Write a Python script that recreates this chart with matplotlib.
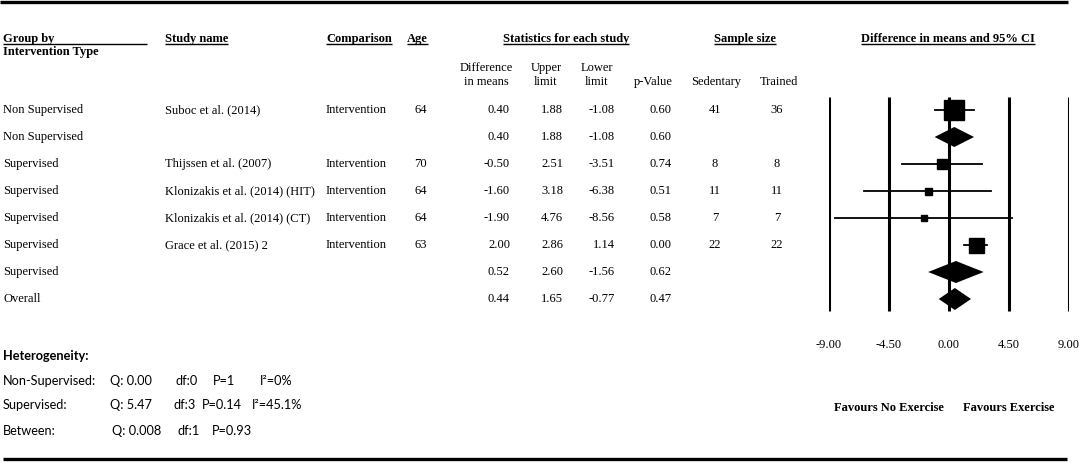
import matplotlib
matplotlib.use("Agg")
from matplotlib import pyplot as plt
from matplotlib.patches import Polygon
import numpy as np

# table data
groups = ["Non Supervised", "Non Supervised", "Supervised", "Supervised",
          "Supervised", "Supervised", "Supervised", "Overall"]
studies = ["Suboc et al. (2014)", "", "Thijssen et al. (2007)",
           "Klonizakis et al. (2014) (HIT)", "Klonizakis et al. (2014) (CT)",
           "Grace et al. (2015) 2", "", ""]
comparison = ["Intervention", "", "Intervention", "Intervention",
              "Intervention", "Intervention", "", ""]
age = ["64", "", "70", "64", "64", "63", "", ""]
diff = [0.40, 0.40, -0.50, -1.60, -1.90, 2.00, 0.52, 0.44]
upper = [1.88, 1.88, 2.51, 3.18, 4.76, 2.86, 2.60, 1.65]
lower = [-1.08, -1.08, -3.51, -6.38, -8.56, 1.14, -1.56, -0.77]
pvals = [0.60, 0.60, 0.74, 0.51, 0.58, 0.00, 0.62, 0.47]
sedentary = ["41", "", "8", "11", "7", "22", "", ""]
trained = ["36", "", "8", "11", "7", "22", "", ""]
is_summary = [False, True, False, False, False, False, True, True]
box_weight = [20, 0, 10, 7, 6, 15, 0, 0]   # box side

ticks = [-9.0, -4.5, 0.0, 4.5, 9.0]

het_rows = [
    ["Non-Supervised:", "Q: 0.00", "df:0", "P=1", "I\u00b2=0%"],
    ["Supervised:", "Q: 5.47", "df:3", "P=0.14", "I\u00b2=45.1%"],
    ["Between:", "Q: 0.008", "df:1", "P=0.93", ""],
]

W, H = 1084, 466
fig = plt.figure(figsize=(W / 100, H / 100), dpi=100)
fig.patch.set_facecolor("white")

serif = "Liberation Serif"
sans = ["Lato", "DejaVu Sans"]
fs = 9
hfs = 9.2

ax = fig.add_axes([0, 0, 1, 1])
ax.set_xlim(0, W)
ax.set_ylim(H, 0)
ax.axis("off")

row_y = [110 + 27 * i for i in range(len(groups))]

underline_me = []


def txt(x, y, s, ha="left", bold=False, under=False, under_to=None, **kw):
	t = ax.text(x, y, s, ha=ha, va="center", fontsize=fs, family=serif,
	            fontweight="bold" if bold else "normal", **kw)
	if under:
		underline_me.append((t, under_to))
	return t


# rules
ax.plot([0, 1068], [2, 2], color="black", lw=2.4, solid_capstyle="butt")
ax.plot([3, 1067], [459, 459], color="black", lw=2.4, solid_capstyle="butt")

# headers
txt(3, 39, "Group by", bold=True, under=True, under_to=147)
txt(3, 52, "Intervention Type", bold=True)
txt(165, 39, "Study name", bold=True, under=True)
txt(326, 39, "Comparison", bold=True, under=True)
txt(407, 39, "Age", bold=True, under=True)
txt(566, 39, "Statistics for each study", ha="center", bold=True, under=True)
txt(745, 39, "Sample size", ha="center", bold=True, under=True)
txt(948, 39, "Difference in means and 95% CI", ha="center", bold=True, under=True)

txt(486, 68, "Difference", ha="center")
txt(486, 82, "in means", ha="center")
txt(546, 68, "Upper", ha="center")
txt(546, 82, "limit", ha="center")
txt(597, 68, "Lower", ha="center")
txt(597, 82, "limit", ha="center")
txt(653, 82, "p-Value", ha="center")
txt(716, 82, "Sedentary", ha="center")
txt(779, 82, "Trained", ha="center")

for i, y in enumerate(row_y):
	txt(3, y, groups[i])
	txt(165, y, studies[i])
	txt(326, y, comparison[i])
	txt(427, y, age[i], ha="right")
	txt(510, y, "%.2f" % diff[i], ha="right")
	txt(563, y, "%.2f" % upper[i], ha="right")
	txt(615, y, "%.2f" % lower[i], ha="right")
	txt(672, y, "%.2f" % pvals[i], ha="right")
	txt(715, y, sedentary[i], ha="center")
	txt(777, y, trained[i], ha="center")

# heterogeneity block
ax.text(3, 356, "Heterogeneity:", ha="left", va="center", fontsize=hfs,
        family=sans, fontweight="bold")
het_x = [[3, 110, 176, 213, 260], [3, 110, 173, 202, 252], [3, 112, 177, 212, 0]]
het_y = [381, 405, 431]
for r, row in enumerate(het_rows):
	for c, s in enumerate(row):
		if s:
			ax.text(het_x[r][c], het_y[r], s, ha="left", va="center",
			        fontsize=hfs, family=sans)

# forest plot
fx0, fx1 = 829, 1069
fa = fig.add_axes([fx0 / W, 0, (fx1 - fx0) / W, 1])
fa.set_xlim(-9, 9)
fa.set_ylim(H, 0)
fa.axis("off")

fa.vlines(ticks, 97, 311, color="black", lw=2.2)
for t in ticks:
	fa.text(t, 345, "%.2f" % t, ha="center", va="center", fontsize=fs, family=serif)
fa.text(-4.5, 408, "Favours No Exercise", ha="center", va="center",
        fontsize=fs, family=serif, fontweight="bold")
fa.text(4.5, 408, "Favours Exercise", ha="center", va="center",
        fontsize=fs, family=serif, fontweight="bold")

for i, y in enumerate(row_y):
	if is_summary[i]:
		h = 10 if i == 1 else 11
		fa.add_patch(Polygon([(lower[i], y), (diff[i], y - h), (upper[i], y),
		                      (diff[i], y + h)], closed=True, color="black", lw=0))
	else:
		fa.plot([lower[i], upper[i]], [y, y], color="black", lw=1.3, clip_on=False)
		fa.plot([diff[i]], [y], marker="s", color="black",
		        markersize=box_weight[i] * 0.72, clip_on=False)

# underline headers
fig.canvas.draw()
r = fig.canvas.get_renderer()
inv = ax.transData.inverted()
for t, to in underline_me:
	bb = t.get_window_extent(r)
	(x0, y0), (x1, y1) = inv.transform([(bb.x0, bb.y0), (bb.x1, bb.y1)])
	if to is not None:
		x1 = to
	ax.plot([x0, x1], [y0 - 1.5, y0 - 1.5], color="black", lw=1.0,
	        solid_capstyle="butt")

fig.savefig("out.png", dpi=100, facecolor="white")
